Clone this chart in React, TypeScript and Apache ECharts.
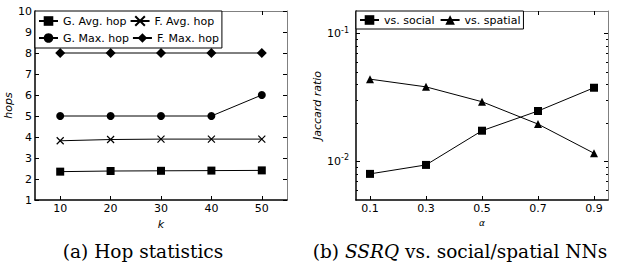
import React, { useEffect, useRef } from "react";
import * as echarts from "echarts";

const kValues = [10, 20, 30, 40, 50];
const gAvgHop = [2.35, 2.38, 2.39, 2.4, 2.41];
const fAvgHop = [3.82, 3.88, 3.9, 3.9, 3.9];
const gMaxHop = [5, 5, 5, 5, 6];
const fMaxHop = [8, 8, 8, 8, 8];

const alphaValues = [0.1, 0.3, 0.5, 0.7, 0.9];
const vsSocial = [0.008, 0.0094, 0.0174, 0.0248, 0.0377];
const vsSpatial = [0.044, 0.0383, 0.0293, 0.0196, 0.0116];

const logMajorTicks = [0.01, 0.1];
const logMinorTicks = [0.006, 0.007, 0.008, 0.009, 0.02, 0.03, 0.04, 0.05, 0.06, 0.07, 0.08, 0.09];

const SANS = "DejaVu Sans";
const SERIF = "DejaVu Serif";
const GREY = "#808080";

export default function App() {
  const ref = useRef<HTMLDivElement>(null);
  useEffect(() => {
    if (!ref.current) return;
    const chart = echarts.init(ref.current, null, { renderer: "svg" });
    const labelStyle = { color: "#000", fontFamily: SANS, fontSize: 11 };
    const mainLine = { show: true, lineStyle: { color: "#000", width: 1.5 } };
    const greyLine = { show: true, lineStyle: { color: GREY, width: 1 } };
    const tickIn = (len: number, vals?: number[]) => ({
      show: true,
      inside: true,
      length: len,
      lineStyle: { color: "#000", width: 1 },
      ...(vals ? { customValues: vals } : {}),
    });
    const lineSeries = (name: string, xs: number[], ys: number[], symbol: string, size: number, xi: number, yi: number, extra: any = {}) => ({
      name,
      type: "line",
      xAxisIndex: xi,
      yAxisIndex: yi,
      data: xs.map((x, i) => [x, ys[i]]),
      symbol,
      symbolSize: size,
      lineStyle: { color: "#000", width: 1 },
      itemStyle: { color: "#000" },
      ...extra,
    });
    const option: any = {
      animation: false,
      backgroundColor: "#fff",
      grid: [
        { left: 35, top: 11, width: 252, height: 189 },
        { left: 356, top: 11, width: 252, height: 189 },
      ],
      xAxis: [
        {
          type: "value", gridIndex: 0, position: "bottom", min: 5, max: 55,
          axisLine: mainLine, axisTick: tickIn(4, kValues),
          axisLabel: { ...labelStyle, margin: 3, customValues: kValues },
          splitLine: { show: false },
          name: "k", nameLocation: "middle", nameGap: 10,
          nameTextStyle: { color: "#000", fontFamily: SANS, fontSize: 11, fontStyle: "italic" },
        },
        {
          type: "value", gridIndex: 0, position: "top", min: 5, max: 55,
          axisLine: greyLine, axisTick: tickIn(4, kValues),
          axisLabel: { show: false }, splitLine: { show: false },
        },
        {
          type: "value", gridIndex: 1, position: "bottom", min: 0.05, max: 0.95,
          axisLine: mainLine, axisTick: tickIn(4, alphaValues),
          axisLabel: { ...labelStyle, margin: 3, customValues: alphaValues, formatter: (v: number) => v.toFixed(1) },
          splitLine: { show: false },
          name: "α", nameLocation: "middle", nameGap: 11,
          nameTextStyle: { color: "#000", fontFamily: SANS, fontSize: 9, fontStyle: "italic" },
        },
        {
          type: "value", gridIndex: 1, position: "top", min: 0.05, max: 0.95,
          axisLine: greyLine, axisTick: tickIn(4, alphaValues),
          axisLabel: { show: false }, splitLine: { show: false },
        },
      ],
      yAxis: [
        {
          type: "value", gridIndex: 0, position: "left", min: 1, max: 10, interval: 1,
          axisLine: mainLine, axisTick: tickIn(4),
          axisLabel: { ...labelStyle, margin: 3 },
          splitLine: { show: false },
          name: "hops", nameLocation: "middle", nameGap: 17,
          nameTextStyle: { color: "#000", fontFamily: SANS, fontSize: 11, fontStyle: "italic" },
        },
        {
          type: "value", gridIndex: 0, position: "right", min: 1, max: 10, interval: 1,
          axisLine: greyLine, axisTick: tickIn(4),
          axisLabel: { show: false }, splitLine: { show: false },
        },
        {
          type: "log", gridIndex: 1, position: "left", min: 0.005, max: 0.15,
          axisLine: mainLine, axisTick: tickIn(4, logMajorTicks),
          axisLabel: {
            ...labelStyle, margin: 7, customValues: logMajorTicks,
            formatter: (v: number) => "10{sup|" + Math.round(Math.log10(v)) + "}",
            rich: { sup: { fontSize: 8, fontFamily: SANS, color: "#000", padding: [0, 0, 7, 0] } },
          },
          splitLine: { show: false }, minorTick: { show: false },
          name: "Jaccard ratio", nameLocation: "middle", nameGap: 29,
          nameTextStyle: { color: "#000", fontFamily: SANS, fontSize: 11, fontStyle: "italic" },
        },
        {
          type: "log", gridIndex: 1, position: "right", min: 0.005, max: 0.15,
          axisLine: greyLine, axisTick: tickIn(4, logMajorTicks),
          axisLabel: { show: false }, splitLine: { show: false },
        },
        {
          type: "log", gridIndex: 1, position: "left", min: 0.005, max: 0.15,
          axisLine: { show: false }, axisTick: tickIn(2, logMinorTicks),
          axisLabel: { show: false }, splitLine: { show: false },
        },
        {
          type: "log", gridIndex: 1, position: "right", min: 0.005, max: 0.15,
          axisLine: { show: false }, axisTick: tickIn(2, logMinorTicks),
          axisLabel: { show: false }, splitLine: { show: false },
        },
      ],
      legend: [
        {
          left: 35, top: 11, width: 190, orient: "horizontal",
          data: ["G. Avg. hop", "F. Avg. hop", "G. Max. hop", "F. Max. hop"],
          itemWidth: 19, itemHeight: 12, itemGap: 3,
          padding: [3, 3],
          borderColor: "#000", borderWidth: 1, backgroundColor: "#fff",
          textStyle: { color: "#000", fontFamily: SANS, fontSize: 11, lineHeight: 14 },
        },
        {
          left: 356, top: 11, orient: "horizontal",
          data: ["vs. social", "vs. spatial"],
          itemWidth: 19, itemHeight: 12, itemGap: 5,
          padding: [2, 3],
          borderColor: "#000", borderWidth: 1, backgroundColor: "#fff",
          textStyle: { color: "#000", fontFamily: SANS, fontSize: 11, lineHeight: 14 },
        },
      ],
      series: [
        lineSeries("G. Avg. hop", kValues, gAvgHop, "rect", 8, 0, 0),
        lineSeries("F. Avg. hop", kValues, fAvgHop, "path://M0,0L10,10M0,10L10,0", 7, 0, 0, {
          itemStyle: { color: "#000", borderColor: "#000", borderWidth: 1.2 },
        }),
        lineSeries("G. Max. hop", kValues, gMaxHop, "circle", 8, 0, 0),
        lineSeries("F. Max. hop", kValues, fMaxHop, "diamond", 10, 0, 0),
        lineSeries("vs. social", alphaValues, vsSocial, "rect", 8, 2, 2),
        lineSeries("vs. spatial", alphaValues, vsSpatial, "triangle", 8, 2, 2),
      ],
      graphic: [
        {
          type: "text", x: 143, y: 251,
          style: {
            text: "(a) Hop statistics", textAlign: "center", textVerticalAlign: "middle",
            fontFamily: SERIF, fontSize: 18.5, fill: "#000",
          },
        },
        {
          type: "text", x: 460, y: 251,
          style: {
            text: "(b) {i|SSRQ} vs. social/spatial NNs", textAlign: "center", textVerticalAlign: "middle",
            fontFamily: SERIF, fontSize: 18.5, fill: "#000",
            rich: { i: { fontFamily: SERIF, fontSize: 18.5, fontStyle: "italic", fill: "#000" } },
          },
        },
      ],
    };
    chart.setOption(option);
    return () => chart.dispose();
  }, []);
  return <div ref={ref} style={{ width: 620, height: 263, position: "absolute", left: 0, top: 0 }} />;
}
